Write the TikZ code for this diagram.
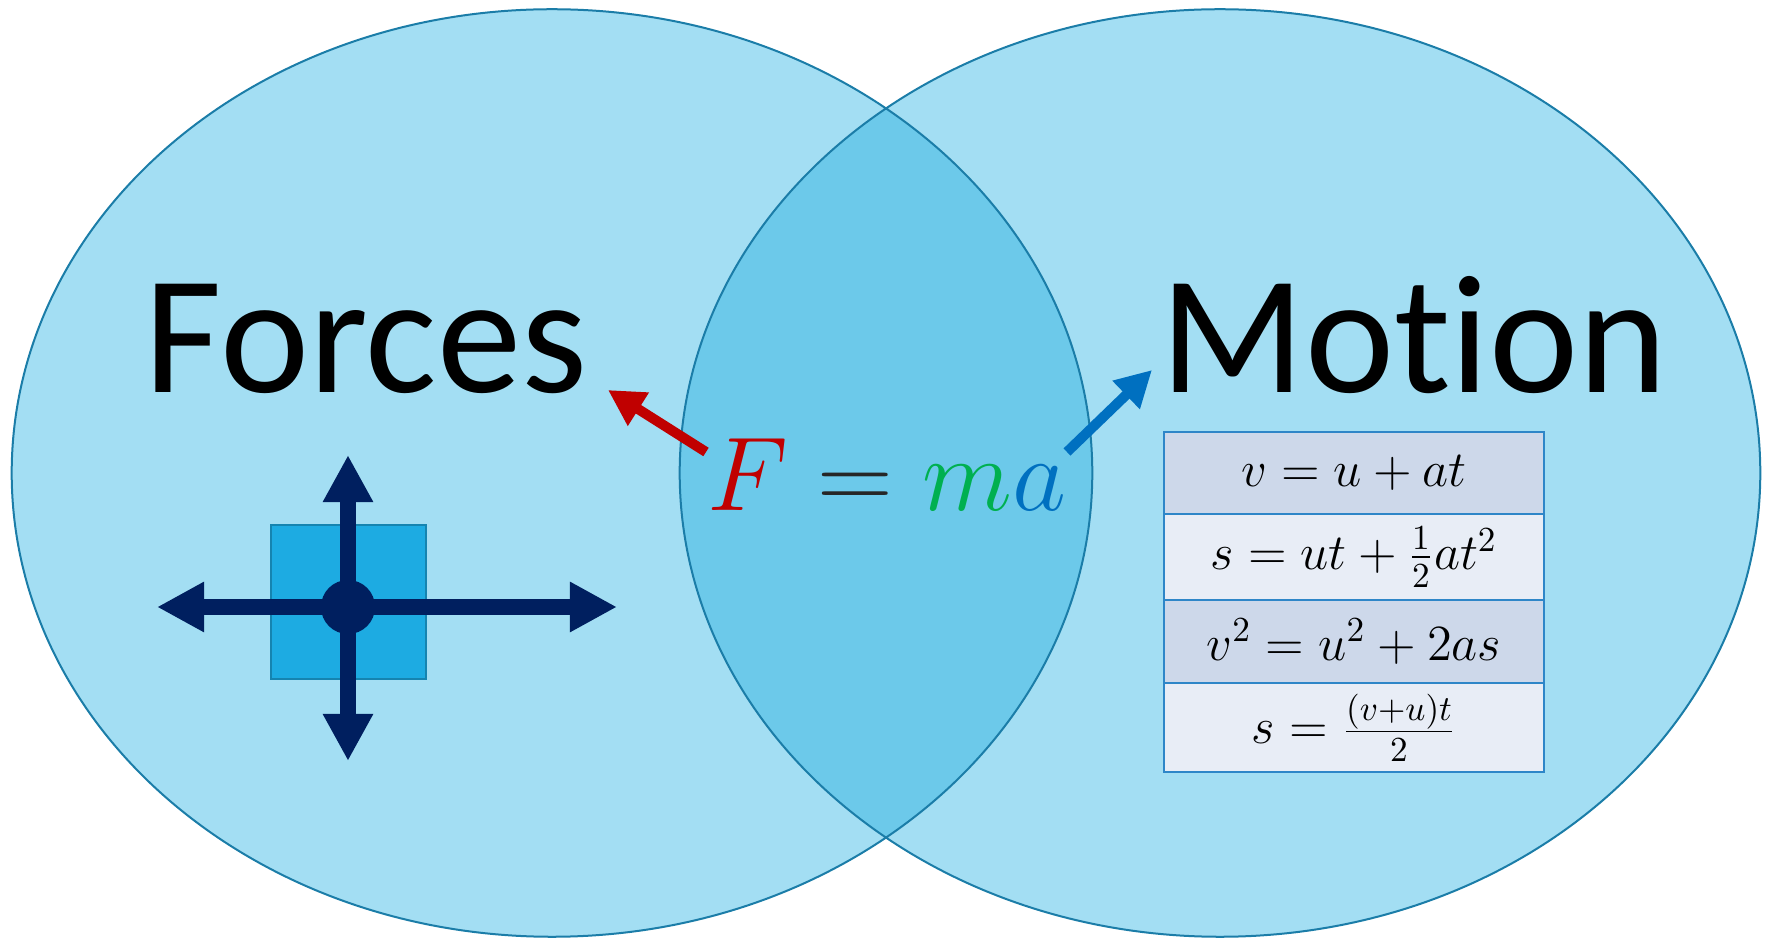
\documentclass[tikz,border=0pt]{standalone}
\usepackage{fontspec}
\newfontfamily\titlefont[Ligatures=NoCommon]{Carlito}
\usetikzlibrary{arrows.meta,positioning}

\definecolor{vennfill}{RGB}{163,222,243}
\definecolor{vennmid}{RGB}{108,201,234}
\definecolor{vennline}{RGB}{27,125,168}
\definecolor{navy}{RGB}{0,31,95}
\definecolor{boxfill}{RGB}{29,171,226}
\definecolor{boxline}{RGB}{21,132,176}
\definecolor{fred}{RGB}{192,0,0}
\definecolor{mgreen}{RGB}{0,176,80}
\definecolor{ablue}{RGB}{0,112,192}
\definecolor{eqdark}{RGB}{38,38,38}
\definecolor{rowdark}{RGB}{205,216,234}
\definecolor{rowlight}{RGB}{232,237,246}
\definecolor{rowline}{RGB}{46,134,200}

\begin{document}
\begin{tikzpicture}[x=0.01cm,y=-0.01cm,
  venn/.style={x radius=5.4cm,y radius=4.635cm},
  title/.style={font=\titlefont\fontsize{48}{58}\selectfont,inner sep=0pt,anchor=base},
  row/.style={draw=rowline,line width=0.2mm,minimum width=3.8cm,inner sep=0pt,outer sep=0pt,
    font=\fontsize{14.4}{18}\selectfont},
  eqarr/.style={line width=1mm,-{Triangle[length=3.6mm,width=3.7mm]}},
  farr/.style={draw=navy,line width=1.6mm,-{Triangle[length=4.7mm,width=4.7mm]}}]

\useasboundingbox (0,0) rectangle (1771,940);

% the two sets
\fill[vennfill] (552,473) ellipse [venn];
\fill[vennfill] (1220,473) ellipse [venn];
\begin{scope}
  \clip (552,473) ellipse [venn];
  \fill[vennmid] (1220,473) ellipse [venn];
\end{scope}
\draw[vennline,line width=0.2mm] (552,473) ellipse [venn] (1220,473) ellipse [venn];

% titles
\node[title] (forces) at (366,393) {Forces};
\node[title] (motion) at (1414,393) {Motion};

% overlap: Newton's second law
\node[font=\fontsize{24.88}{30}\selectfont,scale=1.2,inner sep=0pt,anchor=base] (eq) at (887,511)
  {$\textcolor{fred}{F}\mathrel{\textcolor{eqdark}{\mathbf{=}}}\textcolor{mgreen}{m}\textcolor{ablue}{a}$};
\coordinate (ftail) at (706,452); \coordinate (ftip) at (608,390);
\coordinate (mtail) at (1067,452); \coordinate (mtip) at (1152,370);
\draw[eqarr,fred] (ftail) -- (ftip);
\draw[eqarr,ablue] (mtail) -- (mtip);

% forces on a block
\node[draw=boxline,fill=boxfill,line width=0.25mm,minimum width=1.55cm,minimum height=1.54cm,inner sep=0pt] (blk) at (348.5,602) {};
\coordinate (pl) at (157,607); \coordinate (pr) at (617,607);
\coordinate (pu) at (348,455); \coordinate (pd) at (348,761);
\node[circle,fill=navy,minimum size=5.4mm,inner sep=0pt] (hub) at (348,607) {};
\draw[farr] (hub.center) -- (pl); \draw[farr] (hub.center) -- (pr);
\draw[farr] (hub.center) -- (pu); \draw[farr] (hub.center) -- (pd);

% equations of motion
\node[row,fill=rowdark,minimum height=0.82cm] (r1) at (1354,473) {$v=u+at$};
\node[row,fill=rowlight,minimum height=0.86cm,below=0pt of r1] (r2) {$s=ut+\frac{1}{2}at^2$};
\node[row,fill=rowdark,minimum height=0.83cm,below=0pt of r2] (r3) {$v^2=u^2+2as$};
\node[row,fill=rowlight,minimum height=0.89cm,below=0pt of r3] (r4) {$s=\frac{(v+u)t}{2}$};
\end{tikzpicture}
\end{document}
